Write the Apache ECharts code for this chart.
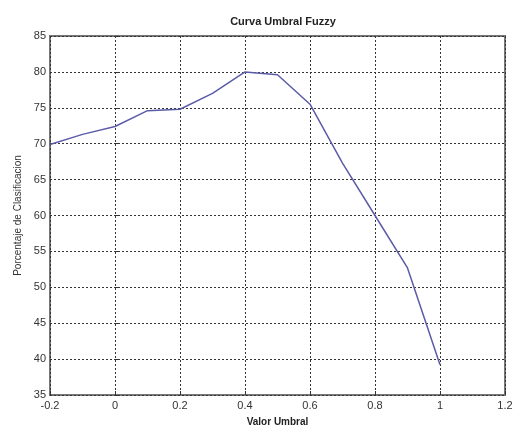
<!DOCTYPE html>
<html><head><meta charset="utf-8">
<script src="https://cdn.jsdelivr.net/npm/echarts@6/dist/echarts.min.js"></script>
<style>html,body{margin:0;padding:0;background:#fff}#c{width:515px;height:427px}</style>
</head><body><div id="c"></div>
<script>
var umbral = [-0.2, -0.1, 0, 0.1, 0.2, 0.3, 0.4, 0.5, 0.6, 0.7, 0.8, 0.9, 1.0];
var porcentaje = [69.9, 71.3, 72.4, 74.6, 74.8, 77.0, 80.0, 79.6, 75.5, 67.3, 60.0, 52.7, 39.2];
var titleText = 'Curva Umbral Fuzzy';
var xName = 'Valor Umbral';
var yName = 'Porcentaje de Clasificacion';

var chart = echarts.init(document.getElementById('c'));
var fmt = function (v) { return String(Math.round(v * 10) / 10); };
chart.setOption({
  animation: false,
  title: { text: titleText, left: 278, top: 11, textAlign: 'center',
    textStyle: { fontFamily: 'Liberation Sans', fontSize: 11, fontWeight: 'bold', color: '#222' } },
  grid: { left: 50, right: 10, top: 36, bottom: 32, show: true, borderColor: '#777', borderWidth: 2,
    outerBoundsMode: 'none', containLabel: false },
  xAxis: {
    type: 'value', min: -0.2, max: 1.2, interval: 0.2,
    name: xName, nameLocation: 'middle', nameGap: 22,
    nameTextStyle: { fontFamily: 'Liberation Sans', fontSize: 10, fontWeight: 'bold', color: '#222' },
    axisLine: { show: false },
    axisTick: { show: true, inside: true, length: 4, lineStyle: { color: '#333' } },
    axisLabel: { formatter: fmt, fontFamily: 'Liberation Sans', fontSize: 11, color: '#333', margin: 5 },
    splitLine: { show: true, lineStyle: { color: '#333', type: [2, 2], width: 1 } }
  },
  yAxis: {
    type: 'value', min: 35, max: 85, interval: 5,
    name: yName, nameLocation: 'middle', nameGap: 27,
    nameTextStyle: { fontFamily: 'Liberation Sans', fontSize: 10, color: '#333' },
    axisLine: { show: false },
    axisTick: { show: true, inside: true, length: 4, lineStyle: { color: '#333' } },
    axisLabel: { fontFamily: 'Liberation Sans', fontSize: 11, color: '#333', margin: 4 },
    splitLine: { show: true, lineStyle: { color: '#333', type: [2, 2], width: 1 } }
  },
  series: [{
    type: 'line', data: umbral.map(function (x, i) { return [x, porcentaje[i]]; }),
    showSymbol: false, lineStyle: { color: '#5b5ca8', width: 1.5 }
  }]
});
</script></body></html>
